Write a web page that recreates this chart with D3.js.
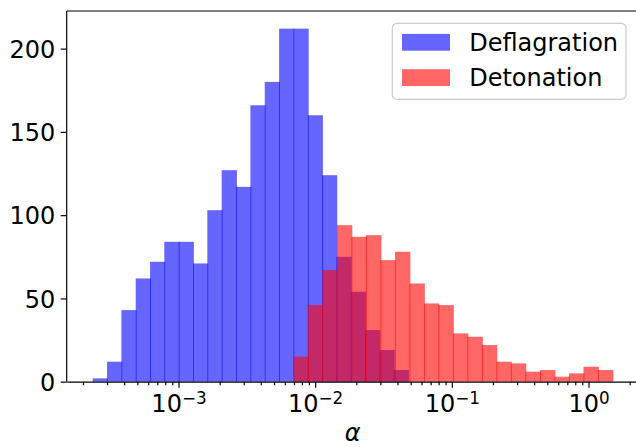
<!DOCTYPE html>
<html><head><meta charset="utf-8">
<script src="https://cdn.jsdelivr.net/npm/d3@7"></script>
<style>
body{margin:0;background:#fff}
text{font-family:"DejaVu Sans",sans-serif}
</style>
</head><body>
<svg id="chart" width="636" height="447"></svg>
<script>
// ---- data ----
const seriesNames = ["Deflagration", "Detonation"];
const deflagEdgesExp = [-3.628,-3.523,-3.418,-3.313,-3.208,-3.104,-2.999,-2.894,-2.789,-2.684,-2.579,-2.474,-2.369,-2.264,-2.159,-2.054,-1.950,-1.845,-1.740,-1.635,-1.530,-1.425,-1.320];
const deflagCounts   = [2,12,43,62,72,84,84,71,103,127,117,166,180,212,212,160,124,75,54,31,19,7];
const detonEdgesExp  = [-2.159,-2.053,-1.947,-1.841,-1.735,-1.629,-1.522,-1.416,-1.310,-1.204,-1.098,-0.992,-0.886,-0.780,-0.674,-0.568,-0.462,-0.355,-0.249,-0.143,-0.037,0.069,0.175];
const detonCounts    = [15,46,67,94,87,88,73,78,59,47,46,29,27,22,12,11,6,7,3,5,9,7];
const yTickValues = [0, 50, 100, 150, 200];
const xTickExps = [-3, -2, -1, 0];
const xLabel = "α";

// ---- layout ----
const W = 636, H = 447;
const plot = {left: 66.7, right: 638.4, top: 11, bottom: 381.7};
const FS = 24;
const blue = "#0000ff", red = "#ff0000";

const svg = d3.select("#chart");
svg.append("rect").attr("width", W).attr("height", H).attr("fill", "#fff");

const xDomainExp = [-3.818, 0.365];
const x = d3.scaleLog().domain(xDomainExp.map(e => Math.pow(10, e))).range([plot.left, plot.right]);
const y = d3.scaleLinear().domain([0, 222.6]).range([plot.bottom, plot.top]);

function bins(edgesExp, counts) {
  return counts.map((c, i) => ({x0: Math.pow(10, edgesExp[i]), x1: Math.pow(10, edgesExp[i+1]), c}));
}

function drawHist(data, color) {
  svg.append("g").selectAll("rect").data(data).join("rect")
    .attr("x", d => x(d.x0))
    .attr("width", d => x(d.x1) - x(d.x0) + 0.9)
    .attr("y", d => y(d.c))
    .attr("height", d => y(0) - y(d.c))
    .attr("fill", color)
    .attr("fill-opacity", 0.6);
}
drawHist(bins(deflagEdgesExp, deflagCounts), blue);
drawHist(bins(detonEdgesExp, detonCounts), red);

// ---- axes ----
const majorTicks = xTickExps.map(e => Math.pow(10, e));
const minorTicks = [];
for (let e = -4; e <= 0; e++) for (let m = 2; m <= 9; m++) {
  const v = m * Math.pow(10, e);
  if (v >= x.domain()[0] && v <= x.domain()[1]) minorTicks.push(v);
}

const gMinor = svg.append("g").attr("transform", `translate(0,${plot.bottom})`)
  .call(d3.axisBottom(x).tickValues(minorTicks).tickSize(3.5).tickSizeOuter(0).tickFormat(""));
const gX = svg.append("g").attr("transform", `translate(0,${plot.bottom})`)
  .call(d3.axisBottom(x).tickValues(majorTicks).tickSize(6).tickSizeOuter(0).tickFormat(""));
gX.selectAll(".tick").append("text")
  .attr("y", 30.6).attr("fill", "#000").attr("text-anchor", "middle")
  .attr("font-size", FS)
  .each(function(d) {
    const t = d3.select(this);
    const e = Math.round(Math.log10(d));
    t.append("tspan").text("10");
    t.append("tspan").attr("dy", -8).attr("font-size", FS * 0.7).text(e < 0 ? "\u2212" + (-e) : String(e));
  });

const gY = svg.append("g").attr("transform", `translate(${plot.left},0)`)
  .call(d3.axisLeft(y).tickValues(yTickValues).tickSize(6).tickSizeOuter(0).tickFormat(""));
gY.selectAll(".tick").append("text")
  .attr("x", -11.5).attr("dy", "0.36em").attr("fill", "#000").attr("text-anchor", "end")
  .attr("font-size", FS).text(d => d);

[gMinor, gX, gY].forEach(g => {
  g.selectAll("path.domain").attr("stroke", "#000").attr("stroke-width", 1.2);
  g.selectAll(".tick line").attr("stroke", "#000").attr("stroke-width", 1.2);
});
gMinor.select("path.domain").remove();
// top spine (right spine falls outside the picture)
svg.append("line").attr("x1", plot.left).attr("x2", plot.right)
  .attr("y1", plot.top).attr("y2", plot.top).attr("stroke", "#000").attr("stroke-width", 1.2);
gY.select("path.domain").attr("d", `M0,${plot.bottom}V${plot.top}`);

// x label
svg.append("text").attr("x", (plot.left + plot.right) / 2).attr("y", 441)
  .attr("text-anchor", "middle").attr("font-size", FS).attr("font-style", "italic").text(xLabel);

// ---- legend ----
const lg = svg.append("g");
lg.append("rect").attr("x", 392.3).attr("y", 23.3).attr("width", 233.7).attr("height", 76)
  .attr("rx", 4.8).attr("fill", "#fff").attr("fill-opacity", 0.8)
  .attr("stroke", "#cccccc").attr("stroke-width", 1.2);
[blue, red].forEach((c, i) => {
  const cy = 42.3 + i * 35.3;
  lg.append("rect").attr("x", 402).attr("y", cy - 8.4).attr("width", 48).attr("height", 16.8)
    .attr("fill", c).attr("fill-opacity", 0.6);
  lg.append("text").attr("x", 469.2).attr("y", cy + 8.2).attr("font-size", FS).text(seriesNames[i]);
});
</script>
</body></html>
